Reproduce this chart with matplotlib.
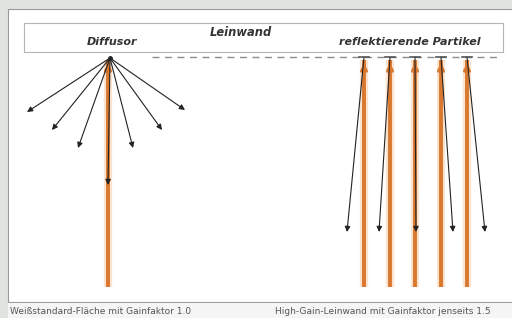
import matplotlib.pyplot as plt
from matplotlib.patches import Rectangle

# diffusor (left) geometry, pixel coords
diff_origin = (110, 58)
diff_ray_x = [27, 52, 78, 108, 133, 162, 185]
diff_ray_y = [112, 130, 148, 185, 148, 130, 110]
diff_beam_bottom = 287

# high-gain screen (right): particle positions and reflected ray ends
part_x = [364, 390, 415, 441, 467]
refl_end_x = [347, 379, 416, 453, 485]
refl_end_y = [232, 232, 232, 232, 232]
beam_bottom = 287
screen_y = 57

labels = ["Diffusor", "Leinwand", "reflektierende Partikel"]
captions = ["Weißstandard-Fläche mit Gainfaktor 1.0",
            "High-Gain-Leinwand mit Gainfaktor jenseits 1.5"]

orange = "#d9782f"
halo = "#fbe3cf"
dark = "#222222"

fig = plt.figure(figsize=(5.12, 3.18), dpi=100)
fig.patch.set_facecolor("#dfe4e1")
ax = fig.add_axes([0, 0, 1, 1])
ax.set_xlim(0, 512)
ax.set_ylim(318, 0)
ax.axis("off")

# white panels
ax.add_patch(Rectangle((8, 9), 510, 293, facecolor="white", edgecolor="#9a9a9a", lw=0.8))
ax.add_patch(Rectangle((8, 303), 510, 16, facecolor="#f4f5f4", edgecolor="none"))

# screen box
ax.add_patch(Rectangle((24, 23), 479, 29, facecolor="white", edgecolor="#b5b5b5", lw=0.8))
ax.text(241, 33, labels[1], ha="center", va="center", fontsize=8.3,
        fontweight="bold", style="italic", color="#333333")
ax.text(112, 42, labels[0], ha="center", va="center", fontsize=8,
        fontweight="bold", style="italic", color="#333333")
ax.text(410, 42, labels[2], ha="center", va="center", fontsize=8,
        fontweight="bold", style="italic", color="#333333")

# dashed surface line
ax.plot([152, 502], [screen_y, screen_y], color="#8c8c8c", lw=1.0, dashes=(5, 4))


def beam(x, y0, y1):
    ax.plot([x, x], [y0, y1], color=halo, lw=6, solid_capstyle="butt", zorder=2)
    ax.plot([x, x], [y0, y1], color=orange, lw=2.8, solid_capstyle="butt", zorder=3)
    ax.annotate("", xy=(x, y1), xytext=(x, y1 + 12),
                arrowprops=dict(arrowstyle="-|>", color=orange, lw=2.2,
                                mutation_scale=9), zorder=4)


def ray(x0, y0, x1, y1):
    ax.annotate("", xy=(x1, y1), xytext=(x0, y0),
                arrowprops=dict(arrowstyle="-|>", color=dark, lw=0.8,
                                mutation_scale=8, shrinkA=0, shrinkB=0), zorder=5)


# left: diffusor
beam(diff_origin[0] - 2, diff_beam_bottom, diff_origin[1] + 2)
for xe, ye in zip(diff_ray_x, diff_ray_y):
    ray(diff_origin[0], diff_origin[1], xe, ye)
ax.plot(*diff_origin, "o", color=dark, ms=2.5, zorder=6)

# right: reflective particles
for xp, xe, ye in zip(part_x, refl_end_x, refl_end_y):
    beam(xp, beam_bottom, screen_y + 3)
    ax.plot([xp - 5, xp + 5], [screen_y, screen_y], color="#555555", lw=1.2, zorder=6)
    ray(xp, screen_y, xe, ye)

ax.text(10, 311, captions[0], ha="left", va="center", fontsize=6.5, color="#555555")
ax.text(275, 311, captions[1], ha="left", va="center", fontsize=6.5, color="#555555")

fig.savefig("out.png", dpi=100, facecolor=fig.get_facecolor())
